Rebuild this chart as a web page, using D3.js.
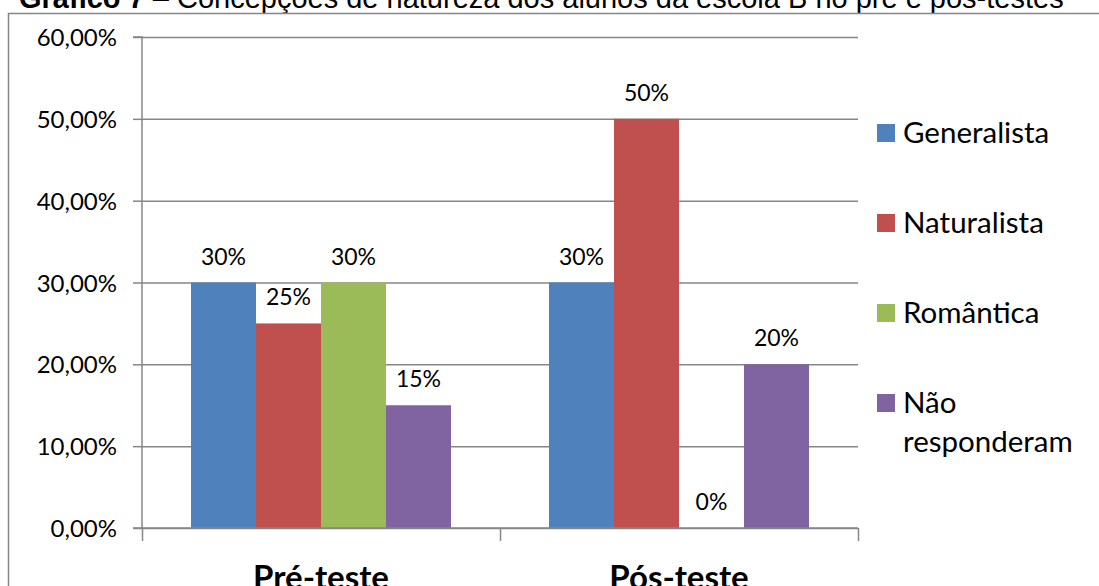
<!DOCTYPE html>
<html>
<head>
<meta charset="utf-8">
<script src="https://cdn.jsdelivr.net/npm/d3@7"></script>
<style>
  body { margin: 0; background: #fff; }
  svg { display: block; }
</style>
</head>
<body>
<svg id="chart"></svg>
<script>
const width = 1099;
const height = 586;

// data
const categories = ['Pré-teste', 'Pós-teste'];
const seriesNames = ['Generalista', 'Naturalista', 'Romântica', 'Não responderam'];
const generalista = [0.30, 0.30];
const naturalista = [0.25, 0.50];
const romantica = [0.30, 0.00];
const naoResponderam = [0.15, 0.20];
const yTicks = [0, 0.1, 0.2, 0.3, 0.4, 0.5, 0.6];
const colors = ['#4F81BD', '#C0504D', '#9BBB59', '#8064A2'];

const seriesValues = [generalista, naturalista, romantica, naoResponderam];

const plotLeft = 142, plotRight = 858, plotTop = 37, plotBottom = 528;
const labelFont = 'Lato, "Open Sans", sans-serif';
const axisColor = '#868686';

const svg = d3.select('#chart')
    .attr('width', width)
    .attr('height', height);

const ptLocale = d3.formatLocale({decimal: ',', thousands: '.', grouping: [3], currency: ['R$', '']});
const tickFormat = ptLocale.format('.2%');

const x0 = d3.scaleBand().domain(categories).range([plotLeft, plotRight]).paddingInner(0).paddingOuter(0);
const x1 = d3.scaleBand().domain(seriesNames).range([0, x0.bandwidth()]).paddingInner(0).paddingOuter(0.754);
const y = d3.scaleLinear().domain([0, 0.6]).range([plotBottom, plotTop]);
const colorScale = d3.scaleOrdinal().domain(seriesNames).range(colors);

// title (mostly cut off at the top)
const title = svg.append('text')
    .attr('x', 19)
    .attr('y', 8)
    .attr('font-family', '"Liberation Sans", Arial, sans-serif')
    .attr('font-size', 29)
    .attr('fill', '#000');
title.append('tspan').attr('font-weight', 'bold').text('Gráfico 7');
title.append('tspan').text(' – Concepções de natureza dos alunos da escola B no pré e pós-testes');

// chart border
svg.append('rect')
    .attr('x', 8.5)
    .attr('y', 13.5)
    .attr('width', 1200)
    .attr('height', 700)
    .attr('fill', 'none')
    .attr('stroke', axisColor)
    .attr('stroke-width', 1.5);

// gridlines
const grid = svg.append('g')
    .attr('transform', `translate(${plotLeft}, 0)`)
    .call(d3.axisLeft(y).tickValues(yTicks).tickSize(-(plotRight - plotLeft)).tickFormat(''));
grid.select('.domain').remove();
grid.selectAll('line').attr('stroke', axisColor).attr('stroke-width', 1.5);

// bars
const rows = categories.map((c, i) => ({
    category: c,
    values: seriesNames.map((s, j) => ({series: s, value: seriesValues[j][i]}))
}));

const groups = svg.selectAll('g.group')
    .data(rows)
    .enter()
    .append('g')
        .attr('class', 'group')
        .attr('transform', d => `translate(${x0(d.category)}, 0)`);

groups.selectAll('rect')
    .data(d => d.values)
    .enter()
    .append('rect')
        .attr('x', d => x1(d.series))
        .attr('y', d => y(d.value))
        .attr('width', x1.bandwidth())
        .attr('height', d => plotBottom - y(d.value))
        .attr('fill', d => colorScale(d.series));

groups.selectAll('text')
    .data(d => d.values)
    .enter()
    .append('text')
        .attr('x', d => x1(d.series) + x1.bandwidth() / 2)
        .attr('y', d => y(d.value) - 18)
        .attr('text-anchor', 'middle')
        .attr('font-family', labelFont)
        .attr('font-size', 23)
        .attr('fill', '#000')
        .text(d => Math.round(d.value * 100) + '%');

// y axis
const yAxis = svg.append('g')
    .attr('transform', `translate(${plotLeft}, 0)`)
    .call(d3.axisLeft(y).tickValues(yTicks).tickSize(9).tickPadding(16).tickFormat(tickFormat));
yAxis.selectAll('path, line').attr('stroke', axisColor).attr('stroke-width', 1.5);
yAxis.select('.domain').attr('d', `M-9,${plotTop}H0V${plotBottom}H-9`);
yAxis.selectAll('text')
    .attr('font-family', labelFont)
    .attr('font-size', 24)
    .attr('fill', '#000')
    .attr('dy', '0.36em');

// x axis: ticks sit between categories
const xBound = d3.scaleLinear().domain([0, categories.length]).range([plotLeft, plotRight]);
const xAxis = svg.append('g')
    .attr('transform', `translate(0, ${plotBottom})`)
    .call(d3.axisBottom(xBound).tickValues(d3.range(categories.length + 1)).tickSize(13).tickFormat(''));
xAxis.selectAll('path, line').attr('stroke', axisColor).attr('stroke-width', 1.5);
xAxis.select('.domain').attr('d', `M${plotLeft},0H${plotRight}`);

const xLabels = svg.append('g')
    .attr('transform', `translate(0, ${plotBottom})`)
    .call(d3.axisBottom(x0).tickSize(0).tickPadding(0));
xLabels.select('.domain').remove();
xLabels.selectAll('text')
    .attr('y', 61)
    .attr('dy', null)
    .attr('font-family', labelFont)
    .attr('font-weight', 'bold')
    .attr('font-size', 33)
    .attr('fill', '#000');

// legend
const legend = svg.append('g').attr('transform', 'translate(877, 124)');
const items = legend.selectAll('g')
    .data(seriesNames)
    .enter()
    .append('g')
        .attr('transform', (d, i) => `translate(0, ${i * 90})`);

items.append('rect')
    .attr('width', 18)
    .attr('height', 18)
    .attr('fill', d => colorScale(d));

items.append('text')
    .attr('x', 26)
    .attr('y', 19)
    .attr('font-family', labelFont)
    .attr('font-size', 29.5)
    .attr('fill', '#000')
    .selectAll('tspan')
    .data(d => d === 'Não responderam' ? ['Não', 'responderam'] : [d])
    .enter()
    .append('tspan')
        .attr('x', 26)
        .attr('dy', (d, i) => i === 0 ? 0 : 39)
        .text(d => d);
</script>
</body>
</html>
